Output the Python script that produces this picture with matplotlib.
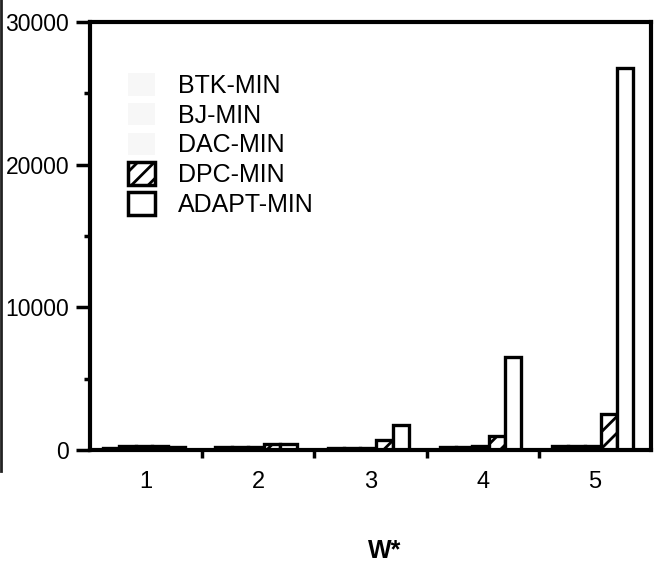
import matplotlib
matplotlib.use("Agg")
import matplotlib.pyplot as plt
import numpy as np
from matplotlib.patches import Patch
from matplotlib.lines import Line2D

plt.rcParams['font.family'] = ['Liberation Sans', 'DejaVu Sans']
plt.rcParams['hatch.linewidth'] = 2.0

# Cost per instance size W*
groups = ["1", "2", "3", "4", "5"]
series = ["BTK-MIN", "BJ-MIN", "DAC-MIN", "DPC-MIN", "ADAPT-MIN"]
btk_min = [100, 200, 100, 200, 250]
bj_min = [250, 200, 100, 200, 250]
dac_min = [250, 200, 100, 250, 250]
dpc_min = [250, 400, 700, 1000, 2500]
adapt_min = [200, 400, 1750, 6500, 26800]
values = [btk_min, bj_min, dac_min, dpc_min, adapt_min]

faces = ["#f5f5f5", "#f5f5f5", "#f5f5f5", "white", "white"]
hatches = [None, None, None, "//", None]

fig = plt.figure(figsize=(6.57, 5.68), dpi=100)
ax = fig.add_axes([0.137, 0.208, 0.854, 0.753])

x = np.arange(len(groups))
width = 0.145
for i, (vals, fc, h) in enumerate(zip(values, faces, hatches)):
    offs = (i - 2) * width - 0.02
    ax.bar(x + offs, vals, width=width, facecolor=fc, edgecolor="black",
           linewidth=2.4, hatch=h, zorder=2)

ax.set_xlim(-0.5, 4.5)
ax.set_ylim(0, 30000)

for s in ["left", "bottom", "top", "right"]:
    ax.spines[s].set_linewidth(3)
    ax.spines[s].set_zorder(3)

ax.set_yticks([0, 10000, 20000, 30000])
ax.set_yticks([5000, 15000, 25000], minor=True)
ax.tick_params(axis="y", which="major", length=10, width=2.5, pad=5,
               labelsize=16.5, direction="out")
ax.tick_params(axis="y", which="minor", length=4, width=2.5, direction="out")

ax.set_xticks(x)
ax.set_xticklabels(groups)
ax.set_xticks([0.5, 1.5, 2.5, 3.5], minor=True)
ax.tick_params(axis="x", which="major", length=0, pad=15, labelsize=17)
ax.tick_params(axis="x", which="minor", length=6, width=2.5, direction="out")

fig.text(385 / 657, 1 - 551 / 568, "W*", fontsize=18, fontweight="bold",
         ha="center", va="center")

handles = [Patch(facecolor="#f7f7f7", edgecolor="none"),
           Patch(facecolor="#f7f7f7", edgecolor="none"),
           Patch(facecolor="#f7f7f7", edgecolor="none"),
           Patch(facecolor="white", edgecolor="black", hatch="//", linewidth=2.5),
           Patch(facecolor="white", edgecolor="black", linewidth=2.5)]
ax.legend(handles, series, loc="upper left", bbox_to_anchor=(0.045, 0.91),
          frameon=False, fontsize=18, handlelength=1.1, handleheight=1.0,
          handletextpad=0.9, labelspacing=0.2, borderpad=0)

# dark border along the left edge of the page
fig.add_artist(Line2D([0.0015, 0.0015], [1.0, 0.17], transform=fig.transFigure,
                      color="#222222", linewidth=2.0))

fig.savefig("out.png", dpi=100, facecolor="white")
